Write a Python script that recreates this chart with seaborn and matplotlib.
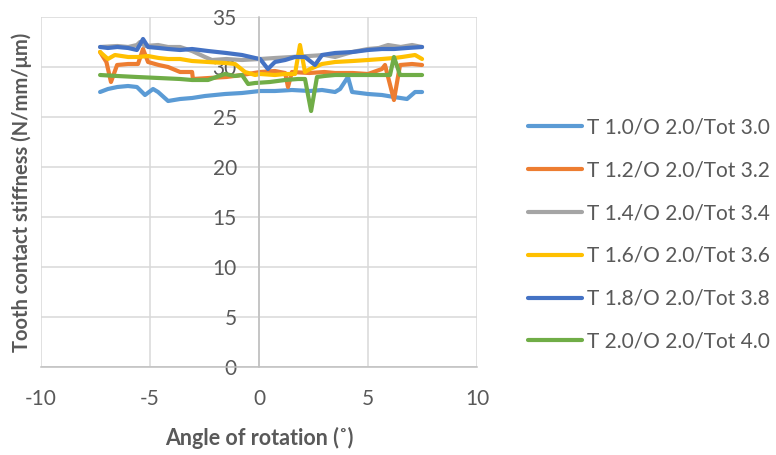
import matplotlib
matplotlib.use("Agg")
import matplotlib.pyplot as plt
import seaborn as sns
import pandas as pd
from matplotlib.lines import Line2D

# ---- data ----
labels = ["T 1.0/O 2.0/Tot 3.0", "T 1.2/O 2.0/Tot 3.2", "T 1.4/O 2.0/Tot 3.4",
          "T 1.6/O 2.0/Tot 3.6", "T 1.8/O 2.0/Tot 3.8", "T 2.0/O 2.0/Tot 4.0"]

x_t10 = [-7.29, -6.93, -6.5, -6.01, -5.6, -5.23, -4.86, -4.63, -4.17, -3.62, -3.07, -2.48, -1.56, -0.78,
         0.05, 0.73, 1.51, 2.34, 2.89, 3.49, 3.72, 4.08, 4.27, 5.0, 5.64, 6.19, 6.79, 7.16, 7.48]
y_t10 = [27.5, 27.8, 28.0, 28.1, 28.0, 27.2, 27.8, 27.5, 26.6, 26.8, 26.9, 27.1, 27.3, 27.4,
         27.6, 27.6, 27.7, 27.6, 27.7, 27.5, 27.8, 29.0, 27.5, 27.3, 27.2, 27.0, 26.8, 27.5, 27.5]

x_t12 = [-7.29, -7.0, -6.79, -6.51, -6.0, -5.55, -5.32, -5.09, -4.6, -4.17, -3.62, -3.07, -3.03, -2.3,
         -1.5, -0.78, 0.05, 0.73, 1.2, 1.33, 1.51, 2.3, 3.0, 3.49, 4.3, 5.0, 5.64, 5.78, 6.19, 6.47, 7.02, 7.48]
y_t12 = [31.5, 30.5, 28.5, 30.2, 30.3, 30.3, 31.8, 30.5, 30.2, 30.0, 29.5, 29.5, 28.8, 28.9,
         29.0, 29.2, 29.5, 29.6, 29.4, 28.0, 29.5, 29.4, 29.5, 29.4, 29.4, 29.3, 29.8, 30.2, 26.7, 30.2, 30.3, 30.2]

x_t14 = [-7.29, -6.5, -6.0, -5.6, -5.46, -5.23, -4.63, -4.17, -3.62, -3.07, -2.48, -2.16, -1.5, -0.78,
         0.05, 0.73, 1.51, 2.3, 3.0, 3.49, 4.27, 5.0, 5.5, 5.92, 6.5, 7.02, 7.48]
y_t14 = [32.0, 32.1, 32.0, 32.2, 32.5, 32.1, 32.2, 32.0, 32.0, 31.6, 31.0, 30.7, 30.8, 30.7,
         30.8, 30.9, 31.0, 31.1, 31.2, 31.0, 31.5, 31.8, 31.9, 32.2, 32.0, 32.2, 32.0]

x_t16 = [-7.29, -6.93, -6.61, -6.0, -5.55, -5.1, -4.6, -4.17, -3.62, -3.07, -2.34, -1.56, -1.10, -0.64,
         -0.18, 0.05, 0.73, 1.2, 1.65, 1.88, 2.11, 2.34, 2.89, 3.49, 4.3, 5.0, 5.64, 6.2, 6.56, 7.16, 7.48]
y_t16 = [31.5, 30.8, 31.2, 31.0, 31.0, 31.1, 30.9, 30.8, 30.8, 30.6, 30.5, 30.4, 30.3, 29.5,
         29.2, 29.3, 29.2, 29.3, 29.3, 32.2, 29.5, 29.8, 30.3, 30.5, 30.6, 30.7, 30.8, 30.9, 31.0, 31.2, 30.8]

x_t18 = [-7.29, -6.93, -6.5, -6.0, -5.6, -5.32, -5.09, -4.6, -4.17, -3.62, -3.07, -2.34, -1.5, -0.78,
         -0.18, 0.05, 0.41, 0.73, 1.2, 1.65, 2.11, 2.57, 2.89, 3.49, 4.3, 5.0, 5.64, 6.2, 6.79, 7.48]
y_t18 = [32.0, 31.9, 32.0, 31.9, 31.7, 32.8, 32.0, 31.9, 31.8, 31.7, 31.8, 31.6, 31.4, 31.2,
         30.9, 30.8, 29.8, 30.5, 30.7, 31.0, 31.0, 30.2, 31.2, 31.4, 31.5, 31.7, 31.8, 31.8, 31.9, 32.0]

x_t20 = [-7.29, -6.5, -5.6, -4.6, -3.62, -3.07, -2.34, -1.56, -1.10, -0.78, -0.50, -0.18, 0.5, 1.2,
         1.79, 2.11, 2.39, 2.66, 3.0, 3.49, 4.5, 5.5, 6.01, 6.19, 6.47, 7.48]
y_t20 = [29.2, 29.1, 29.0, 28.9, 28.8, 28.7, 28.7, 29.3, 29.1, 29.2, 28.3, 28.4, 28.5, 28.7,
         28.8, 28.8, 25.6, 29.0, 29.1, 29.2, 29.2, 29.2, 29.2, 31.0, 29.2, 29.2]

xs = [x_t10, x_t12, x_t14, x_t16, x_t18, x_t20]
ys = [y_t10, y_t12, y_t14, y_t16, y_t18, y_t20]
colors = ["#5B9BD5", "#ED7D31", "#A5A5A5", "#FFC000", "#4472C4", "#70AD47"]

x_ticks = [-10, -5, 0, 5, 10]
y_ticks = [0, 5, 10, 15, 20, 25, 30, 35]

rows = []
for lab, xv, yv in zip(labels, xs, ys):
    for i, (a, b) in enumerate(zip(xv, yv)):
        rows.append({"series": lab, "angle": a, "stiff": b, "idx": i})
df = pd.DataFrame(rows)

# ---- style ----
sns.set_theme(style="white")
plt.rcParams["font.family"] = ["Lato", "DejaVu Sans"]
plt.rcParams["axes.unicode_minus"] = False
txt = "#595959"

fig = plt.figure(figsize=(7.76, 4.55), dpi=100)
ax = fig.add_axes([41 / 776, 88 / 455, 436 / 776, 350 / 455])

sns.lineplot(data=df, x="angle", y="stiff", hue="series", hue_order=labels,
             palette=colors, sort=False, estimator=None, units="series",
             linewidth=3, ax=ax, legend=False)

ax.set_xlim(-10, 10)
ax.set_ylim(0, 35)
ax.set_xticks(x_ticks)
ax.set_yticks(y_ticks)
ax.grid(True, color="#D9D9D9", linewidth=1.1)
ax.set_axisbelow(True)
for s in ["top", "right"]:
    ax.spines[s].set_visible(False)
ax.spines["left"].set_position(("data", 0))
ax.spines["left"].set_color("#BFBFBF")
ax.spines["bottom"].set_color("#BFBFBF")
ax.spines["left"].set_linewidth(1.1)
ax.spines["bottom"].set_linewidth(1.1)
ax.tick_params(axis="both", length=0, labelsize=15, labelcolor=txt)
ax.tick_params(axis="y", pad=16)
ax.tick_params(axis="x", pad=16)

ax.set_xlabel("Angle of rotation (˚)", fontsize=15.5, fontweight="bold", color=txt)
ax.set_ylabel("Tooth contact stiffness (N/mm/μm)", fontsize=14.5, fontweight="bold", color=txt)
ax.xaxis.set_label_coords(0.5, -0.172)
ax.yaxis.set_label_coords(-0.02, 0.5)

handles = [Line2D([0], [0], color=c, linewidth=3, solid_capstyle="round") for c in colors]
fig.legend(handles, labels, loc="center left", bbox_to_anchor=(528 / 776, 1 - 234.5 / 455),
           frameon=False, fontsize=15, labelcolor=txt, handlelength=2.6, handletextpad=0.25,
           labelspacing=1.1, borderpad=0, borderaxespad=0)

fig.savefig("out.png", dpi=100)
